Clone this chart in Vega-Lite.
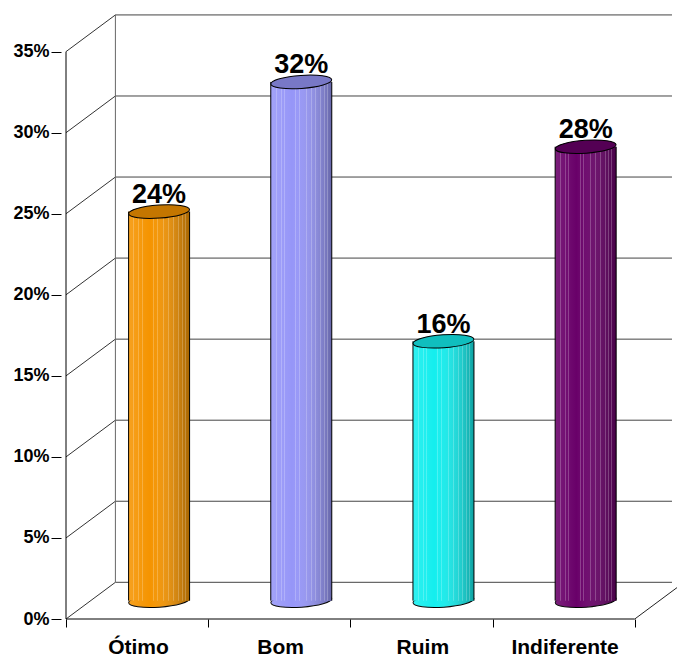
{
  "$schema": "https://vega.github.io/schema/vega-lite/v6.json",
  "autosize": {"type": "none"},
  "padding": {"left": 61, "top": 15, "right": 0, "bottom": 38},
  "width": 616,
  "height": 604,
  "background": "white",
  "config": {"view": {"stroke": null}, "font": "Liberation Sans"},
  "datasets": {
    "bars": [
      {"cat": "Ótimo", "i": 0, "pct": 0.24},
      {"cat": "Bom", "i": 1, "pct": 0.32},
      {"cat": "Ruim", "i": 2, "pct": 0.16},
      {"cat": "Indiferente", "i": 3, "pct": 0.28}
    ],
    "grid": [{"v": 0}, {"v": 0.05}, {"v": 0.1}, {"v": 0.15}, {"v": 0.2}, {"v": 0.25}, {"v": 0.3}, {"v": 0.35}],
    "one": [{}]
  },
  "layer": [
    {
      "data": {"name": "grid"},
      "mark": {"type": "rule", "color": "#444", "strokeWidth": 1, "xOffset": 49.4, "yOffset": -36.7},
      "encoding": {
        "x": {"datum": -0.5, "type": "quantitative", "scale": {"domain": [-0.5, 3.762], "nice": false, "zero": false},
          "axis": {"values": [-0.5, 0.5, 1.5, 2.5, 3.5], "title": null, "domain": false, "grid": false, "tickSize": 8, "tickColor": "black",
            "labelExpr": "datum.value == -0.5 ? 'Ótimo' : datum.value == 0.5 ? 'Bom' : datum.value == 1.5 ? 'Ruim' : datum.value == 2.5 ? 'Indiferente' : ''",
            "labelOffset": 72, "labelAlign": "center", "labelBaseline": "alphabetic", "labelPadding": 26, "labelFont": "Liberation Sans", "labelFontWeight": "bold", "labelFontSize": 21, "labelColor": "black", "labelFlush": false, "labelOverlap": false, "labelBound": false}},
        "x2": {"datum": 3.762},
        "y": {"field": "v", "type": "quantitative", "scale": {"domain": [0, 0.3726], "nice": false, "zero": false},
          "axis": {"values": [0, 0.05, 0.1, 0.15, 0.2, 0.25, 0.3, 0.35], "format": ".0%", "title": null, "domain": false, "grid": false, "tickSize": 10, "tickColor": "black",
            "labelPadding": 2, "labelFont": "Liberation Sans", "labelFontWeight": "bold", "labelFontSize": 18, "labelColor": "black", "labelBound": false, "labelOverlap": false}}
      }
    },
    {
      "data": {"name": "grid"},
      "mark": {"type": "rule", "color": "#333", "strokeWidth": 1, "x2Offset": 49.4, "y2Offset": -36.7},
      "encoding": {
        "x": {"datum": -0.5, "type": "quantitative", "axis": {"title": null}},
        "x2": {"datum": -0.5},
        "y": {"field": "v", "type": "quantitative", "axis": {"title": null}},
        "y2": {"field": "v"}
      }
    },
    {
      "data": {"name": "one"},
      "mark": {"type": "rule", "color": "#666", "strokeWidth": 1, "xOffset": 49.4, "yOffset": -36.7, "y2Offset": -36.7},
      "encoding": {
        "x": {"datum": -0.5, "type": "quantitative", "axis": {"title": null}},
        "y": {"datum": 0, "type": "quantitative", "axis": {"title": null}},
        "y2": {"datum": 0.35}
      }
    },
    {
      "data": {"name": "one"},
      "mark": {"type": "rule", "color": "#222", "strokeWidth": 1, "x2Offset": 49.4, "y2Offset": -36.7},
      "encoding": {
        "x": {"datum": 3.5, "type": "quantitative", "axis": {"title": null}},
        "x2": {"datum": 3.5},
        "y": {"datum": 0, "type": "quantitative", "axis": {"title": null}},
        "y2": {"datum": 0}
      }
    },
    {
      "data": {"name": "one"},
      "mark": {"type": "rule", "color": "black", "strokeWidth": 1},
      "encoding": {
        "x": {"datum": -0.5, "type": "quantitative", "axis": {"title": null}},
        "x2": {"datum": 3.5},
        "y": {"datum": 0, "type": "quantitative", "axis": {"title": null}}
      }
    },
    {
      "data": {"name": "one"},
      "mark": {"type": "rule", "color": "black", "strokeWidth": 1},
      "encoding": {
        "x": {"datum": -0.5, "type": "quantitative", "axis": {"title": null}},
        "y": {"datum": 0, "type": "quantitative", "axis": {"title": null}},
        "y2": {"datum": 0.35}
      }
    },
    {
      "data": {"name": "bars"},
      "mark": {"type": "point", "shape": "M-1,0A1,0.213,0,1,1,1,0A1,0.213,0,1,1,-1,0Z", "size": 3721, "filled": true, "opacity": 1, "stroke": "black", "strokeWidth": 1, "angle": -4, "xOffset": 22, "yOffset": -18.35},
      "encoding": {
        "x": {"field": "i", "type": "quantitative", "axis": {"title": null}},
        "y": {"datum": 0, "type": "quantitative", "axis": {"title": null}},
        "color": {"field": "cat", "type": "nominal", "legend": null,
          "scale": {"domain": ["Ótimo", "Bom", "Ruim", "Indiferente"], "range": ["#F59400", "#9696F8", "#14EEEE", "#690069"]}}
      }
    },
    {
      "data": {"name": "bars"},
      "mark": {"type": "point", "shape": "M-1,0A1,0.213,0,1,1,1,0A1,0.213,0,1,1,-1,0Z", "size": 3721, "filled": true, "opacity": 1, "strokeWidth": 0, "angle": -4, "xOffset": 22, "yOffset": -18.35,
        "fill": {"gradient": "linear", "x1": 0, "x2": 1, "y1": 0, "y2": 0, "stops": [{"offset": 0, "color": "rgba(255,255,255,0.12)"}, {"offset": 0.35, "color": "rgba(255,255,255,0)"}, {"offset": 1, "color": "rgba(0,0,0,0.32)"}]}},
      "encoding": {
        "x": {"field": "i", "type": "quantitative", "axis": {"title": null}},
        "y": {"datum": 0, "type": "quantitative", "axis": {"title": null}}
      }
    },
    {
      "data": {"name": "bars"},
      "mark": {"type": "bar", "width": 61, "xOffset": 22, "yOffset": -18.35, "y2Offset": -18.35, "opacity": 1},
      "encoding": {
        "x": {"field": "i", "type": "quantitative", "axis": {"title": null}},
        "y": {"field": "pct", "type": "quantitative", "axis": {"title": null}},
        "y2": {"datum": 0},
        "color": {"field": "cat", "type": "nominal", "legend": null}
      }
    },
    {
      "data": {"name": "bars"},
      "mark": {"type": "bar", "width": 61, "xOffset": 22, "yOffset": -18.35, "y2Offset": -18.35, "opacity": 1,
        "fill": {"gradient": "linear", "x1": 0, "x2": 1, "y1": 0, "y2": 0, "stops": [{"offset": 0, "color": "rgba(255,255,255,0.12)"}, {"offset": 0.35, "color": "rgba(255,255,255,0)"}, {"offset": 1, "color": "rgba(0,0,0,0.32)"}]}},
      "encoding": {
        "x": {"field": "i", "type": "quantitative", "axis": {"title": null}},
        "y": {"field": "pct", "type": "quantitative", "axis": {"title": null}},
        "y2": {"datum": 0}
      }
    },
    {
      "data": {"name": "bars"},
      "mark": {"type": "bar", "width": 61, "xOffset": 22, "yOffset": -18.35, "y2Offset": -18.35, "opacity": 1,
        "fill": {"gradient": "linear", "x1": 0, "x2": 1, "y1": 0, "y2": 0, "stops": [
          {"offset": 0.079, "color": "rgba(255,255,255,0)"}, {"offset": 0.079, "color": "rgba(255,255,255,0.22)"}, {"offset": 0.095, "color": "rgba(255,255,255,0.22)"}, {"offset": 0.095, "color": "rgba(255,255,255,0)"},
          {"offset": 0.162, "color": "rgba(255,255,255,0)"}, {"offset": 0.162, "color": "rgba(255,255,255,0.22)"}, {"offset": 0.178, "color": "rgba(255,255,255,0.22)"}, {"offset": 0.178, "color": "rgba(255,255,255,0)"},
          {"offset": 0.212, "color": "rgba(255,255,255,0)"}, {"offset": 0.212, "color": "rgba(255,255,255,0.22)"}, {"offset": 0.228, "color": "rgba(255,255,255,0.22)"}, {"offset": 0.228, "color": "rgba(255,255,255,0)"},
          {"offset": 0.402, "color": "rgba(255,255,255,0)"}, {"offset": 0.402, "color": "rgba(255,255,255,0.22)"}, {"offset": 0.418, "color": "rgba(255,255,255,0.22)"}, {"offset": 0.418, "color": "rgba(255,255,255,0)"},
          {"offset": 0.462, "color": "rgba(255,255,255,0)"}, {"offset": 0.462, "color": "rgba(255,255,255,0.22)"}, {"offset": 0.478, "color": "rgba(255,255,255,0.22)"}, {"offset": 0.478, "color": "rgba(255,255,255,0)"},
          {"offset": 0.572, "color": "rgba(255,255,255,0)"}, {"offset": 0.572, "color": "rgba(255,255,255,0.22)"}, {"offset": 0.588, "color": "rgba(255,255,255,0.22)"}, {"offset": 0.588, "color": "rgba(255,255,255,0)"},
          {"offset": 0.652, "color": "rgba(255,255,255,0)"}, {"offset": 0.652, "color": "rgba(255,255,255,0.22)"}, {"offset": 0.668, "color": "rgba(255,255,255,0.22)"}, {"offset": 0.668, "color": "rgba(255,255,255,0)"},
          {"offset": 0.732, "color": "rgba(255,255,255,0)"}, {"offset": 0.732, "color": "rgba(255,255,255,0.22)"}, {"offset": 0.748, "color": "rgba(255,255,255,0.22)"}, {"offset": 0.748, "color": "rgba(255,255,255,0)"},
          {"offset": 0.812, "color": "rgba(255,255,255,0)"}, {"offset": 0.812, "color": "rgba(255,255,255,0.22)"}, {"offset": 0.828, "color": "rgba(255,255,255,0.22)"}, {"offset": 0.828, "color": "rgba(255,255,255,0)"},
          {"offset": 0.872, "color": "rgba(255,255,255,0)"}, {"offset": 0.872, "color": "rgba(255,255,255,0.22)"}, {"offset": 0.888, "color": "rgba(255,255,255,0.22)"}, {"offset": 0.888, "color": "rgba(255,255,255,0)"},
          {"offset": 0.922, "color": "rgba(255,255,255,0)"}, {"offset": 0.922, "color": "rgba(255,255,255,0.22)"}, {"offset": 0.938, "color": "rgba(255,255,255,0.22)"}, {"offset": 0.938, "color": "rgba(255,255,255,0)"}
        ]}},
      "encoding": {
        "x": {"field": "i", "type": "quantitative", "axis": {"title": null}},
        "y": {"field": "pct", "type": "quantitative", "axis": {"title": null}},
        "y2": {"datum": 0}
      }
    },
    {
      "data": {"name": "bars"},
      "mark": {"type": "rule", "color": "black", "strokeWidth": 1, "xOffset": -8.5, "yOffset": -18.35, "y2Offset": -18.35},
      "encoding": {
        "x": {"field": "i", "type": "quantitative", "axis": {"title": null}},
        "y": {"field": "pct", "type": "quantitative", "axis": {"title": null}},
        "y2": {"datum": 0}
      }
    },
    {
      "data": {"name": "bars"},
      "mark": {"type": "rule", "color": "black", "strokeWidth": 1, "xOffset": 52.5, "yOffset": -18.35, "y2Offset": -18.35},
      "encoding": {
        "x": {"field": "i", "type": "quantitative", "axis": {"title": null}},
        "y": {"field": "pct", "type": "quantitative", "axis": {"title": null}},
        "y2": {"datum": 0}
      }
    },
    {
      "data": {"name": "bars"},
      "mark": {"type": "point", "shape": "M-1,0A1,0.213,0,1,1,1,0A1,0.213,0,1,1,-1,0Z", "size": 3721, "filled": true, "opacity": 1, "strokeWidth": 0, "angle": -4, "xOffset": 22, "yOffset": -18.35},
      "encoding": {
        "x": {"field": "i", "type": "quantitative", "axis": {"title": null}},
        "y": {"field": "pct", "type": "quantitative", "axis": {"title": null}},
        "color": {"field": "cat", "type": "nominal", "legend": null}
      }
    },
    {
      "data": {"name": "bars"},
      "mark": {"type": "point", "shape": "M-1,0A1,0.213,0,1,1,1,0A1,0.213,0,1,1,-1,0Z", "size": 3721, "filled": true, "opacity": 1, "fill": "black", "fillOpacity": 0.2, "stroke": "black", "strokeOpacity": 1, "strokeWidth": 1, "angle": -4, "xOffset": 22, "yOffset": -18.35},
      "encoding": {
        "x": {"field": "i", "type": "quantitative", "axis": {"title": null}},
        "y": {"field": "pct", "type": "quantitative", "axis": {"title": null}}
      }
    },
    {
      "data": {"name": "bars"},
      "mark": {"type": "text", "font": "Liberation Sans", "fontWeight": "bold", "fontSize": 27, "color": "black", "align": "center", "baseline": "alphabetic", "dx": 22, "dy": -27},
      "encoding": {
        "x": {"field": "i", "type": "quantitative", "axis": {"title": null}},
        "y": {"field": "pct", "type": "quantitative", "axis": {"title": null}},
        "text": {"field": "pct", "type": "quantitative", "format": ".0%"}
      }
    }
  ]
}
